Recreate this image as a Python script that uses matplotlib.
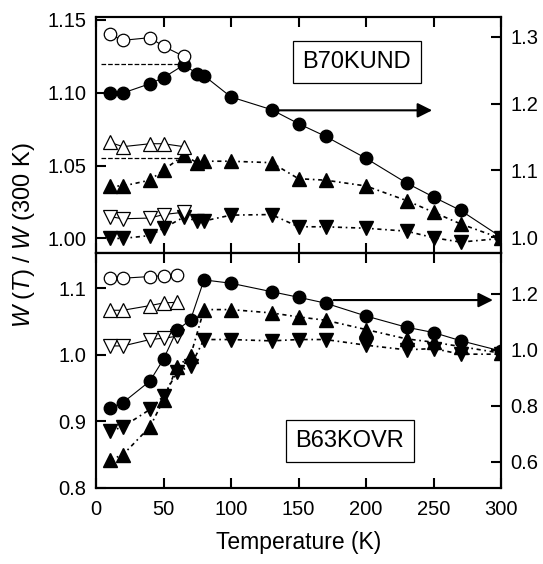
import matplotlib
matplotlib.use('Agg')
import matplotlib.pyplot as plt
import numpy as np

plt.rcParams['font.family'] = ['Liberation Sans', 'DejaVu Sans']
plt.rcParams['mathtext.fontset'] = 'custom'
plt.rcParams['mathtext.rm'] = 'Liberation Sans'
plt.rcParams['mathtext.it'] = 'Liberation Sans:italic'

# ---- top panel: B70KUND ----
t_top = [10, 20, 40, 50, 65, 75, 80, 100, 130, 150, 170, 200, 230, 250, 270, 300]
circ_top = [1.216, 1.216, 1.230, 1.239, 1.258, 1.245, 1.242, 1.210, 1.191, 1.170,
            1.151, 1.118, 1.081, 1.060, 1.040, 1.000]          # right axis
up_top = [1.036, 1.036, 1.040, 1.047, 1.057, 1.052, 1.053, 1.053, 1.052, 1.041,
          1.040, 1.036, 1.026, 1.018, 1.010, 1.000]
down_top = [1.000, 1.000, 1.002, 1.007, 1.0146, 1.012, 1.012, 1.016, 1.0164, 1.008,
            1.008, 1.007, 1.005, 1.0005, 0.9975, 1.000]

t_open_top = [10, 20, 40, 50, 65]
circ_open_top = [1.304, 1.295, 1.299, 1.286, 1.271]         # right axis
up_open_top = [1.066, 1.063, 1.065, 1.065, 1.063]
down_open_top = [1.015, 1.0135, 1.014, 1.0164, 1.018]

# ---- bottom panel: B63KOVR ----
t_bot = [10, 20, 40, 50, 60, 70, 80, 100, 130, 150, 170, 200, 230, 250, 270, 300]
circ_bot = [0.792, 0.812, 0.889, 0.967, 1.071, 1.107, 1.250, 1.238, 1.208, 1.188,
            1.167, 1.121, 1.081, 1.062, 1.033, 0.996]          # right axis
up_bot = [0.842, 0.850, 0.892, 0.932, 0.982, 0.9985, 1.068, 1.068, 1.063, 1.057,
          1.052, 1.038, 1.024, 1.019, 1.0125, 1.0025]
down_bot = [0.885, 0.892, 0.918, 0.938, 0.974, 0.983, 1.023, 1.023, 1.021, 1.023,
            1.023, 1.0145, 1.0075, 1.0095, 1.001, 1.001]

t_open_bot = [10, 20, 40, 50, 60]
circ_open_bot = [1.256, 1.256, 1.262, 1.265, 1.268]         # right axis
up_open_bot = [1.067, 1.067, 1.074, 1.078, 1.079]
down_open_bot = [1.0134, 1.0134, 1.023, 1.025, 1.028]

FS = 14.5
dotdash = (0, (2.5, 2.2, 1, 2.2))

fig = plt.figure(figsize=(5.43, 5.64), dpi=100)
L, R, T, M, B = 0.1768, 0.9227, 0.9699, 0.5514, 0.1348
ax1 = fig.add_axes([L, M, R - L, T - M])
ax2 = fig.add_axes([L, B, R - L, M - B], sharex=ax1)
ax1r = ax1.twinx()
ax2r = ax2.twinx()


def style(ax):
    for s in ax.spines.values():
        s.set_linewidth(1.5)
    ax.tick_params(direction='in', length=7, width=1.5, labelsize=FS, top=True, pad=7)
    ax.tick_params(axis='x', pad=9)


for ax in (ax1, ax2, ax1r, ax2r):
    style(ax)

mk = dict(color='black', lw=0.8, markersize=9)
tri = dict(color='black', lw=1.2, ls=dotdash, markersize=10)
tri_open = dict(color='black', lw=0.8, ls='-', markersize=10, mfc='white', mew=0.9)

# top panel
ax1r.plot(t_top, circ_top, marker='o', ls='-', **mk)
ax1r.plot(t_open_top, circ_open_top, marker='o', ls='-', mfc='white', mew=0.9, **mk)
ax1r.plot([4, 62], [1.26, 1.26], ls='--', color='black', lw=0.9)
ax1.plot(t_top, up_top, marker='^', **tri)
ax1.plot(t_top, down_top, marker='v', **tri)
ax1.plot(t_open_top, up_open_top, marker='^', **tri_open)
ax1.plot(t_open_top, down_open_top, marker='v', **tri_open)
ax1.plot([4, 62], [1.055, 1.055], ls='--', color='black', lw=0.9)
ax1r.annotate('', xy=(249, 1.19), xytext=(131, 1.19),
              arrowprops=dict(arrowstyle='-|>', lw=1.5, color='black', mutation_scale=22,
                              shrinkA=0, shrinkB=0))

# bottom panel
ax2r.plot(t_bot, circ_bot, marker='o', ls='-', **mk)
ax2r.plot(t_open_bot, circ_open_bot, marker='o', ls='-', mfc='white', mew=0.9, **mk)
ax2.plot(t_bot, up_bot, marker='^', **tri)
ax2.plot(t_bot, down_bot, marker='v', **tri)
ax2.plot(t_open_bot, up_open_bot, marker='^', **tri_open)
ax2.plot(t_open_bot, down_open_bot, marker='v', **tri_open)
ax2r.annotate('', xy=(294, 1.178), xytext=(176, 1.178),
              arrowprops=dict(arrowstyle='-|>', lw=1.5, color='black', mutation_scale=22,
                              shrinkA=0, shrinkB=0))

# limits and ticks
ax1.set_xlim(0, 300)
ax1.set_xticks([0, 50, 100, 150, 200, 250, 300])
ax1.tick_params(labelbottom=False)
ax1.set_ylim(0.99, 1.152)
ax1.set_yticks([1.00, 1.05, 1.10, 1.15])
ax1.set_yticklabels(['1.00', '1.05', '1.10', '1.15'])
ax1r.set_ylim(0.976, 1.33)
ax1r.set_yticks([1.0, 1.1, 1.2, 1.3])
ax1r.set_yticklabels(['1.0', '1.1', '1.2', '1.3'])

ax2.set_ylim(0.8, 1.153)
ax2.set_yticks([0.8, 0.9, 1.0, 1.1])
ax2.set_yticklabels(['0.8', '0.9', '1.0', '1.1'])
ax2r.set_ylim(0.507, 1.346)
ax2r.set_yticks([0.6, 0.8, 1.0, 1.2])
ax2r.set_yticklabels(['0.6', '0.8', '1.0', '1.2'])
ax2.set_xlabel('Temperature (K)', fontsize=16.5, labelpad=8)

box = dict(boxstyle='square,pad=0.42', fc='white', ec='black', lw=0.9)
ax1.text(0.644, 0.809, 'B70KUND', transform=ax1.transAxes, fontsize=17,
         ha='center', va='center', bbox=box)
ax2.text(0.627, 0.20, 'B63KOVR', transform=ax2.transAxes, fontsize=17,
         ha='center', va='center', bbox=box)

fig.text(0.044, 1 - 235 / 564, r'$\it{W}$ ($\it{T}$) / $\it{W}$ (300 K)',
         rotation=90, ha='center', va='center', fontsize=17)

fig.savefig('out.png', dpi=100)
